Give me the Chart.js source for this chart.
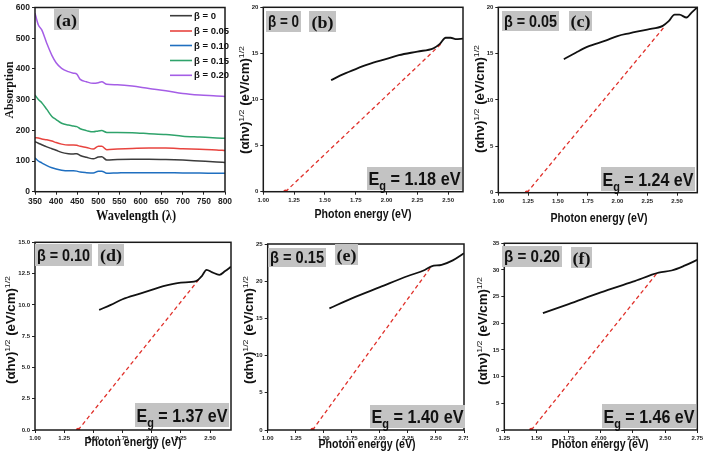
<!DOCTYPE html>
<html><head><meta charset="utf-8">
<script src="https://cdn.jsdelivr.net/npm/chart.js@4.4.0/dist/chart.umd.min.js"></script>
<style>
html,body{margin:0;padding:0;background:#fff;width:709px;height:462px;overflow:hidden}
canvas{position:absolute}
</style></head><body>
<canvas id="pa"></canvas><canvas id="pb"></canvas><canvas id="pc"></canvas>
<canvas id="pd"></canvas><canvas id="pe"></canvas><canvas id="pf"></canvas>
<script>
// ---------- DATA ----------
const betaLabels = ['β = 0', 'β = 0.05', 'β = 0.10', 'β = 0.15', 'β = 0.20'];
const wavelength = [350,358,366,378,390,400,413,429,441,449,457,472,488,500,508,520,545,580,620,660,700,740,780,800];
const absBeta000 = [163,158,153,146,140,135,128,124,123,124,118,112,107,113,114,103,105,106,106,105,103,100,97,95];
const absBeta005 = [176,175,172,169,165,160,155,152,152,151,148,144,139,148,148,137,139,141,142,142,140,138,136,134];
const absBeta010 = [110,100,94,85,78,74,70,68,68,67,64,62,61,67,67,60,61,62,62,62,61,61,60,60];
const absBeta015 = [315,300,290,268,245,235,223,217,214,212,205,199,195,198,199,193,193,192,189,186,181,178,175,174];
const absBeta020 = [581,543,527,483,444,420,402,391,386,383,366,358,353,355,358,350,348,344,336,329,320,315,312,310];
const wavelengthTicks = [350,400,450,500,550,600,650,700,750,800];

const energyB = [1.55,1.65,1.75,1.85,2.0,2.1,2.25,2.38,2.43,2.48,2.52,2.56,2.62];
const taucB   = [12.1,12.75,13.3,13.8,14.4,14.8,15.2,15.55,16.0,16.7,16.7,16.55,16.6];
const energyC = [1.55,1.65,1.75,1.9,2.0,2.1,2.25,2.38,2.43,2.48,2.52,2.58,2.62,2.67];
const taucC   = [14.4,15.1,15.75,16.4,16.9,17.2,17.6,18.0,18.5,19.2,19.2,18.9,19.4,20.0];
const energyD = [1.55,1.65,1.75,1.9,2.0,2.1,2.25,2.38,2.43,2.47,2.52,2.58,2.63,2.68];
const taucD   = [9.6,10.0,10.45,10.9,11.2,11.5,11.78,11.9,12.3,12.8,12.6,12.4,12.7,13.05];
const energyE = [1.55,1.75,2.0,2.25,2.4,2.46,2.55,2.65,2.75];
const taucE   = [16.35,17.7,19.2,20.7,21.5,22.0,22.2,22.8,23.75];
const energyF = [1.55,1.75,2.0,2.25,2.45,2.55,2.65,2.75];
const taucF   = [21.9,23.6,25.8,27.8,29.5,29.9,30.8,31.9];

const fitEnergyB = [1.18, 2.44], fitValueB = [0, 16.0];
const fitEnergyC = [1.24, 2.40], fitValueC = [0, 18.0];
const fitEnergyD = [1.37, 2.41], fitValueD = [0, 12.1];
const fitEnergyE = [1.40, 2.46], fitValueE = [0, 22.0];
const fitEnergyF = [1.46, 2.44], fitValueF = [0, 29.5];
const bandGaps = ['1.18', '1.24', '1.37', '1.40', '1.46'];
const panelLetters = ['(a)', '(b)', '(c)', '(d)', '(e)', '(f)'];

// ---------- STYLE ----------
const SANS = "'Liberation Sans', Arial, sans-serif";
const SERIF = "'Liberation Serif', 'Times New Roman', serif";
const seriesColors = ['#3c3c3c', '#e8443f', '#1f6fc0', '#2fa36b', '#a55ee6'];
const BOX = '#c3c3c3';

function drawParts(ctx, parts, cx, cy, targetW, rotate) {
  let total = 0;
  parts.forEach(p => { ctx.font = p.font; p.w = ctx.measureText(p.t).width; total += p.w; });
  let s = targetW ? Math.max(0.6, Math.min(1.2, targetW / total)) : 1;
  ctx.save();
  ctx.translate(cx, cy);
  if (rotate) ctx.rotate(-Math.PI / 2);
  ctx.scale(s, 1);
  ctx.textBaseline = 'alphabetic';
  ctx.textAlign = 'left';
  let x = -total / 2;
  parts.forEach(p => {
    ctx.font = p.font; ctx.fillStyle = p.color || '#111';
    ctx.fillText(p.t, x, p.base);
    x += p.w;
  });
  ctx.restore();
}

const decor = {
  id: 'decor',
  afterDraw(chart, args, o) {
    const ctx = chart.ctx, a = chart.chartArea, ox = o.ox, oy = o.oy;
    ctx.save();
    ctx.strokeStyle = '#1a1a1a'; ctx.lineWidth = 1.5;
    ctx.strokeRect(a.left, a.top, a.right - a.left, a.bottom - a.top);
    (o.boxes || []).forEach(b => {
      ctx.fillStyle = BOX; ctx.fillRect(b.x - ox, b.y - oy, b.w, b.h);
      drawParts(ctx, [{t: b.text, font: b.font, base: b.size * 0.36}], b.x - ox + b.w / 2, b.y - oy + b.h / 2, b.tw, false);
    });
    if (o.eg) {
      const b = o.eg;
      ctx.fillStyle = BOX; ctx.fillRect(b.x - ox, b.y - oy, b.w, b.h);
      const sz = 19;
      drawParts(ctx, [
        {t: 'E', font: `bold ${sz}px ${SANS}`, base: sz * 0.36},
        {t: 'g', font: `bold ${sz * 0.68}px ${SANS}`, base: sz * 0.36 + 5},
        {t: ' = ' + b.val + ' eV', font: `bold ${sz}px ${SANS}`, base: sz * 0.36}
      ], b.x - ox + b.w / 2, b.y - oy + b.h / 2, b.w - 3, false);
    }
    if (o.xt) drawParts(ctx, [{t: o.xt.text, font: o.xt.font, base: o.xt.size * 0.36}], o.xt.x - ox, o.xt.y - oy, o.xt.w, false);
    if (o.yt) {
      if (o.yt.parts) {
        const sz = 12, ss = 8;
        drawParts(ctx, [
          {t: '(αhν)', font: `bold ${sz}px ${SANS}`, base: 4},
          {t: '1/2', font: `${ss}px ${SANS}`, base: -1},
          {t: ' (eV/cm)', font: `bold ${sz}px ${SANS}`, base: 4},
          {t: '1/2', font: `${ss}px ${SANS}`, base: -1}
        ], o.yt.x - ox, o.yt.y - oy, o.yt.w, true);
      } else {
        drawParts(ctx, [{t: o.yt.text, font: o.yt.font, base: o.yt.size * 0.36}], o.yt.x - ox, o.yt.y - oy, o.yt.w, true);
      }
    }
    if (o.legend) {
      const L = o.legend;
      L.labels.forEach((lab, i) => {
        const y = L.rows[i] - oy;
        ctx.strokeStyle = L.colors[i]; ctx.lineWidth = 1.6;
        ctx.beginPath(); ctx.moveTo(L.x1 - ox, y); ctx.lineTo(L.x2 - ox, y); ctx.stroke();
        ctx.fillStyle = '#111'; ctx.font = `bold 9.5px ${SANS}`;
        ctx.textAlign = 'left'; ctx.textBaseline = 'middle';
        ctx.fillText(lab, L.x2 - ox + 2, y + 0.5);
      });
    }
    ctx.restore();
  }
};

function makeChart(id, c, ca, scales, datasets, decorOpts) {
  const el = document.getElementById(id);
  el.width = c.w; el.height = c.h;
  el.style.left = c.x + 'px'; el.style.top = c.y + 'px';
  const yW = ca.l - c.x, xH = (c.y + c.h) - ca.b;
  const padTop = ca.t - c.y, padRight = (c.x + c.w) - ca.r;
  scales.x.afterFit = s => { s.height = xH; s.paddingLeft = 0; s.paddingRight = 0; };
  scales.y.afterFit = s => { s.width = yW; s.paddingTop = 0; s.paddingBottom = 0; };
  decorOpts.ox = c.x; decorOpts.oy = c.y;
  return new Chart(el, {
    type: 'scatter',
    data: {datasets},
    options: {
      responsive: false, animation: false, devicePixelRatio: 1,
      layout: {padding: {top: padTop, right: padRight, left: 0, bottom: 0}},
      plugins: {legend: {display: false}, tooltip: {enabled: false}, decor: decorOpts},
      scales
    },
    plugins: [decor]
  });
}

function axis(min, max, step, dec, size, extra) {
  return Object.assign({
    type: 'linear', min, max,
    grid: {drawOnChartArea: false, drawTicks: true, tickLength: 3, color: '#222', lineWidth: 1},
    border: {display: false},
    ticks: {stepSize: step, includeBounds: false, autoSkip: false, maxRotation: 0, padding: 2,
      color: '#222', font: {family: SANS, size, weight: 'bold'},
      callback: v => Number(v).toFixed(dec)}
  }, extra || {});
}

// ---------- PANEL (a) ----------
const absSeries = [absBeta000, absBeta005, absBeta010, absBeta015, absBeta020];
makeChart('pa', {x: 0, y: 0, w: 232, h: 230}, {l: 35, t: 7.5, r: 225, b: 191.7},
  {x: axis(350, 800, 50, 0, 8.5), y: axis(0, 600, 100, 0, 8.5)},
  absSeries.map((vals, i) => ({
    label: betaLabels[i],
    data: wavelength.map((w, k) => ({x: w, y: vals[k]})),
    showLine: true, borderColor: seriesColors[i], borderWidth: 1.5,
    pointRadius: 0, cubicInterpolationMode: 'monotone'
  })),
  {boxes: [{x: 54, y: 9, w: 25, h: 21, text: panelLetters[0], font: `bold 17px ${SERIF}`, size: 17, tw: 21}],
   xt: {x: 136, y: 215, text: 'Wavelength (λ)', font: `bold 14px ${SERIF}`, size: 14, w: 80},
   yt: {x: 9, y: 90, text: 'Absorption', font: `bold 12px ${SERIF}`, size: 12, w: 57},
   legend: {labels: betaLabels, colors: seriesColors, x1: 170, x2: 192, rows: [15.7, 31, 45.5, 60.5, 75.3]}}
);

// ---------- PANELS (b)-(f) ----------
const taucPanels = [
  {id: 'pb', c: {x: 232, y: 0, w: 236, h: 230}, ca: {l: 263.3, t: 7.3, r: 463, b: 191.7},
   xr: [1, 2.62], yr: [0, 20, 5, 0], E: energyB, V: taucB, fE: fitEnergyB, fV: fitValueB,
   beta: {x: 266, y: 11, w: 35, h: 21}, let: {x: 309, y: 11, w: 27, h: 21}, eg: {x: 367, y: 167, w: 95, h: 23},
   xt: {x: 363, y: 213}, yt: {x: 245, y: 100}},
  {id: 'pc', c: {x: 468, y: 0, w: 241, h: 230}, ca: {l: 498.3, t: 7.3, r: 697.3, b: 192.7},
   xr: [1, 2.67], yr: [0, 20, 5, 0], E: energyC, V: taucC, fE: fitEnergyC, fV: fitValueC,
   beta: {x: 502, y: 11, w: 57, h: 20}, let: {x: 569, y: 11, w: 23, h: 20}, eg: {x: 601, y: 167, w: 94, h: 24},
   xt: {x: 599, y: 217}, yt: {x: 480, y: 99}},
  {id: 'pd', c: {x: 0, y: 230, w: 236, h: 232}, ca: {l: 35, t: 242.3, r: 231, b: 430},
   xr: [1, 2.68], yr: [0, 15, 2.5, 1], E: energyD, V: taucD, fE: fitEnergyD, fV: fitValueD,
   beta: {x: 35, y: 244, w: 57, h: 22}, let: {x: 98, y: 244, w: 26, h: 22}, eg: {x: 135, y: 403, w: 94, h: 24},
   xt: {x: 133, y: 441}, yt: {x: 11, y: 330}},
  {id: 'pe', c: {x: 236, y: 230, w: 232, h: 232}, ca: {l: 267.7, t: 244, r: 465, b: 430},
   xr: [1, 2.75], yr: [0, 25, 5, 0], E: energyE, V: taucE, fE: fitEnergyE, fV: fitValueE,
   beta: {x: 268, y: 248, w: 58, h: 19}, let: {x: 335, y: 244, w: 23, h: 21}, eg: {x: 370, y: 405, w: 95, h: 23},
   xt: {x: 367, y: 443}, yt: {x: 249, y: 330}},
  {id: 'pf', c: {x: 468, y: 230, w: 241, h: 232}, ca: {l: 504.3, t: 243.3, r: 697.3, b: 430},
   xr: [1.25, 2.75], yr: [0, 35, 5, 0], E: energyF, V: taucF, fE: fitEnergyF, fV: fitValueF,
   beta: {x: 502, y: 246, w: 60, h: 21}, let: {x: 571, y: 247, w: 21, h: 21}, eg: {x: 602, y: 404, w: 94, h: 24},
   xt: {x: 600, y: 443}, yt: {x: 483, y: 331}}
];

taucPanels.forEach((p, i) => {
  makeChart(p.id, p.c, p.ca,
    {x: axis(p.xr[0], p.xr[1], 0.25, 2, 6), y: axis(p.yr[0], p.yr[1], p.yr[2], p.yr[3], 6)},
    [
      {data: p.E.map((e, k) => ({x: e, y: p.V[k]})), showLine: true, borderColor: '#111', borderWidth: 1.8,
       pointRadius: 0, cubicInterpolationMode: 'monotone'},
      {data: p.fE.map((e, k) => ({x: e, y: p.fV[k]})), showLine: true, borderColor: '#e0302a', borderWidth: 1.3,
       borderDash: [4, 3], pointRadius: [2.2, 0], pointBackgroundColor: '#e0302a', pointBorderWidth: 0}
    ],
    {boxes: [
       {...p.beta, text: betaLabels[i], font: `bold 16px ${SANS}`, size: 16, tw: p.beta.w - 4},
       {...p.let, text: panelLetters[i + 1], font: `bold 17px ${SERIF}`, size: 17, tw: Math.min(22, p.let.w - 3)}
     ],
     eg: {...p.eg, val: bandGaps[i]},
     xt: {...p.xt, text: 'Photon energy (eV)', font: `bold 12.5px ${SANS}`, size: 12.5, w: 97},
     yt: {...p.yt, parts: true, w: 108}}
  );
});
</script>
</body></html>
